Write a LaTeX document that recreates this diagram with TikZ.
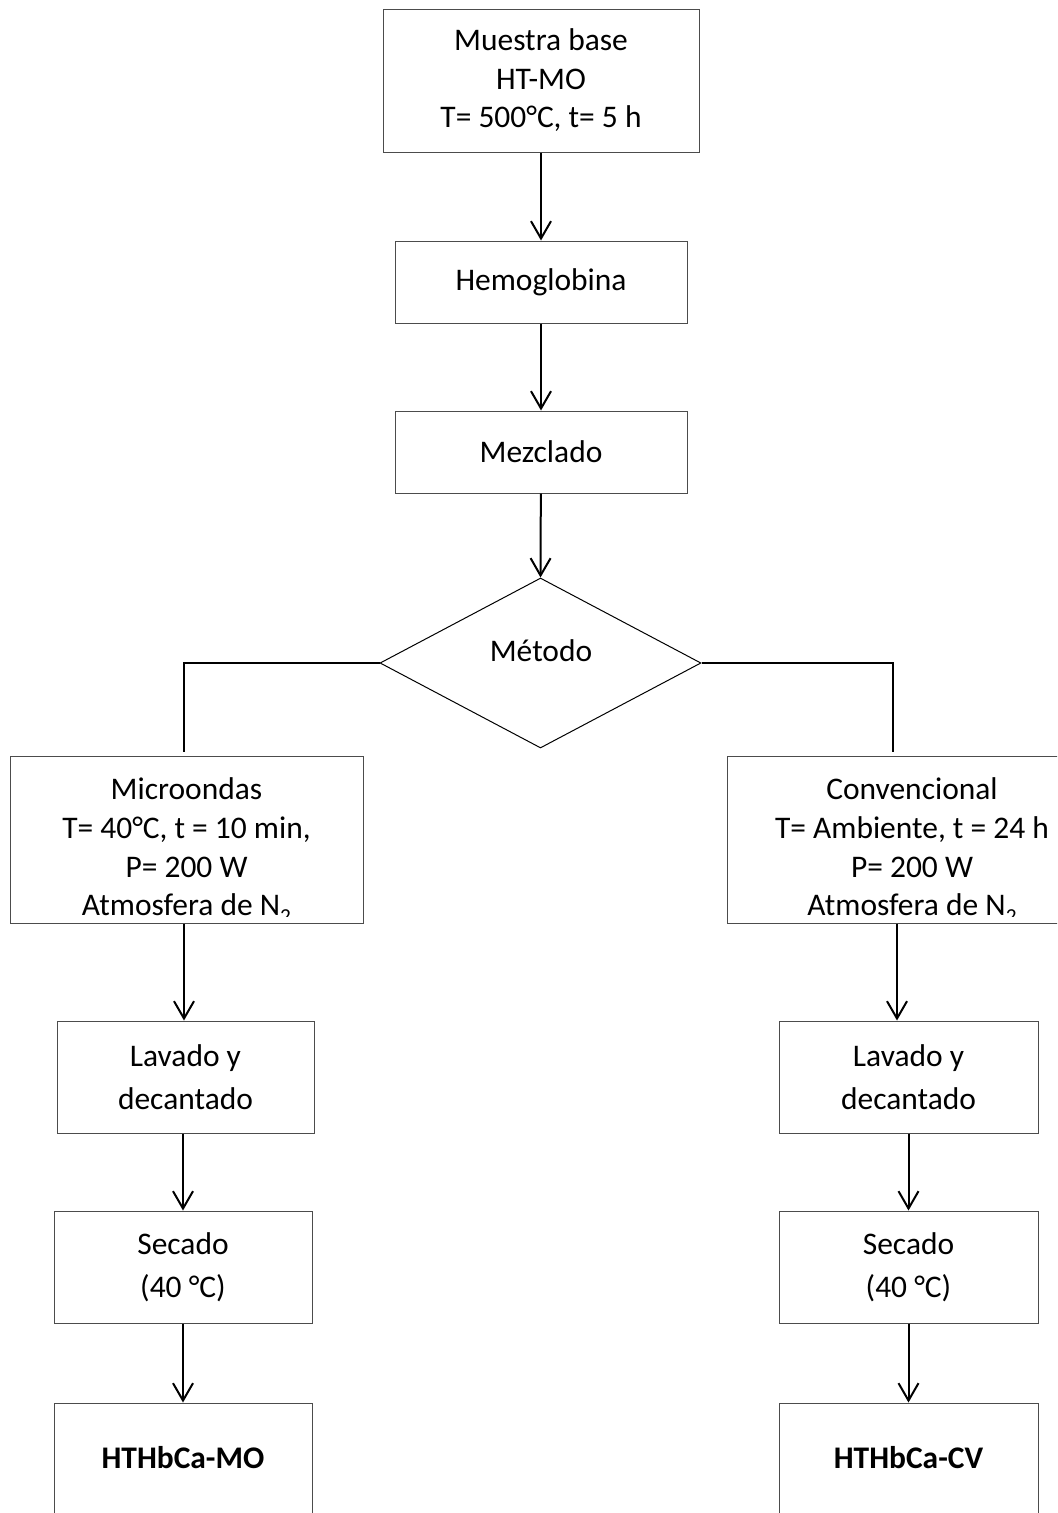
\documentclass[tikz,border=0pt]{standalone}
\usepackage{fontspec}
\setmainfont{Carlito}
\usetikzlibrary{shapes.geometric,arrows.meta}

% lowered subscript, as set in the method boxes
\newcommand{\lowsub}[1]{\raisebox{-6pt}{\fontsize{16}{16}\selectfont #1}}

\begin{document}
\begin{tikzpicture}[x=0.75pt,y=-0.75pt,
  box/.style={draw=black!70, line width=0.75pt, inner sep=0pt, align=center,
              font=\fontsize{23.6}{29}\selectfont},
  tallbox/.style={box, font=\fontsize{23.6}{32.5}\selectfont},
  plain/.style={inner sep=0pt, align=center, font=\fontsize{23.6}{29}\selectfont},
  flow/.style={line width=1.5pt, -{Straight Barb[length=13pt,width=15pt,line width=1.5pt]}},
  link/.style={line width=1.5pt},
]
\clip (0,0) rectangle (1057,1513);

% main trunk
\node[box, minimum width=316*0.75pt, minimum height=142*0.75pt, text depth=4pt] (base) at (541,81)
  {Muestra base\\HT-MO\\T= 500°C, t= 5 h};
\node[box, minimum width=292*0.75pt, minimum height=82*0.75pt] (hemo) at (541,282) {Hemoglobina};
\node[box, minimum width=292*0.75pt, minimum height=82*0.75pt] (mezcla) at (541,452) {Mezclado};
\node[draw, diamond, aspect=1.888, minimum width=321*0.75pt, minimum height=170*0.75pt,
      inner sep=0pt, line width=0.75pt] (metodo) at (540.5,663) {};
\node[plain] (metodotxt) at (541,651) {Método};

\draw[flow] (base) -- (hemo);
\draw[flow] (hemo) -- (mezcla);
\draw[flow] (mezcla) -- (metodo.north);

% branch ends
\coordinate (lb) at (184,752);
\coordinate (rb) at (893,752);
\draw[link] (metodo.west) -| (lb);
\draw[link] (metodo.east) -| (rb);

% method boxes, last line cut by the box bottom
\node[box, minimum width=353*0.75pt, minimum height=167*0.75pt] (micro) at (186.5,839.5) {};
\node[box, minimum width=370*0.75pt, minimum height=167*0.75pt] (conv) at (912,839.5) {};
\begin{scope}
  \clip (micro.north west) rectangle ([yshift=5.25pt]micro.south east);
  \node[plain] (microtxt) at (186.5,851)
    {Microondas\\T= 40°C, t = 10 min,\\P= 200 W\\Atmosfera de N\lowsub{2}};
\end{scope}
\begin{scope}
  \clip (conv.north west) rectangle ([yshift=5.25pt]conv.south east);
  \node[plain] (convtxt) at (912,851)
    {Convencional\\T= Ambiente, t = 24 h\\P= 200 W\\Atmosfera de N\lowsub{2}};
\end{scope}

% left column
\node[tallbox, minimum width=257*0.75pt, minimum height=112*0.75pt] (lavL) at (185.5,1077) {Lavado y\\decantado};
\node[tallbox, minimum width=258*0.75pt, minimum height=112*0.75pt] (secL) at (183,1267) {Secado\\(40 °C)};
\node[box, minimum width=258*0.75pt, minimum height=130*0.75pt, text height=8pt, text depth=8pt,
      font=\fontsize{23.6}{29}\selectfont\bfseries] (mo) at (183,1468) {HTHbCa-MO};

% right column
\node[tallbox, minimum width=259*0.75pt, minimum height=112*0.75pt] (lavR) at (908.5,1077) {Lavado y\\decantado};
\node[tallbox, minimum width=259*0.75pt, minimum height=112*0.75pt] (secR) at (908.5,1267) {Secado\\(40 °C)};
\node[box, minimum width=259*0.75pt, minimum height=130*0.75pt, text height=8pt, text depth=8pt,
      font=\fontsize{23.6}{29}\selectfont\bfseries] (cv) at (908.5,1468) {HTHbCa-CV};

\draw[flow] (lb |- micro.south) -- (lb |- lavL.north);
\draw[flow] (secL.north |- lavL.south) -- (secL.north);
\draw[flow] (secL) -- (mo);

\draw[flow] ([xshift=-11.25pt]conv.south) -- ([xshift=-11.25pt]conv.south |- lavR.north);
\draw[flow] (lavR) -- (secR);
\draw[flow] (secR) -- (cv);
\end{tikzpicture}
\end{document}
